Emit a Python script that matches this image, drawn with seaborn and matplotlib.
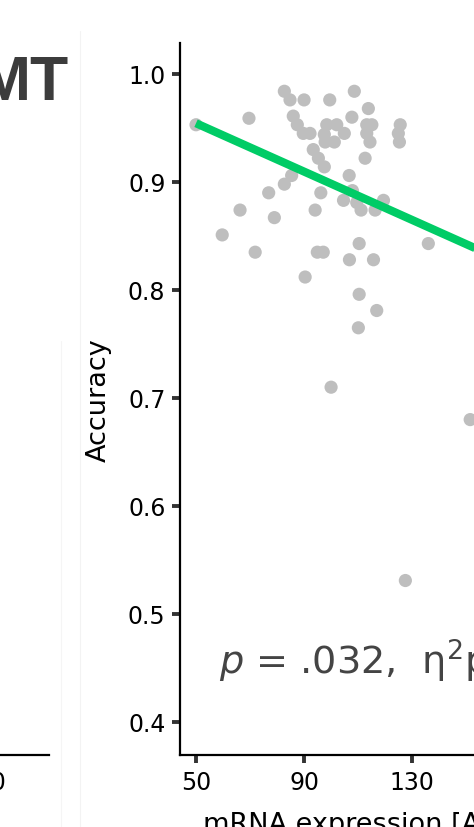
import matplotlib
matplotlib.use("Agg")
import matplotlib.pyplot as plt
from matplotlib.lines import Line2D
import pandas as pd
import seaborn as sns

# mRNA expression and task accuracy per participant
mrna = [50.0, 69.6, 82.7, 84.8, 90.0, 99.5, 108.6, 113.8, 107.7, 86.0,
        87.5, 89.7, 92.2, 98.4, 102.1, 104.9, 97.5, 97.8, 101.2, 113.2,
        115.1, 113.2, 114.4, 125.6, 124.9, 125.3, 112.6, 93.4, 95.3, 97.5,
        85.4, 82.7, 76.9, 96.2, 106.7, 107.9, 104.6, 109.5, 111.1, 116.3,
        119.4, 66.3, 79.0, 94.1, 59.7, 71.9, 94.9, 97.1, 110.4, 136.0,
        106.8, 115.7, 90.4, 110.4, 116.9, 110.1, 100.0, 151.5, 127.5]
accuracy = [0.953, 0.959, 0.984, 0.976, 0.976, 0.976, 0.984, 0.968, 0.960, 0.961,
            0.953, 0.945, 0.945, 0.953, 0.953, 0.945, 0.944, 0.937, 0.937, 0.953,
            0.953, 0.945, 0.937, 0.953, 0.945, 0.937, 0.922, 0.930, 0.922, 0.914,
            0.906, 0.898, 0.890, 0.890, 0.906, 0.892, 0.883, 0.881, 0.874, 0.874,
            0.883, 0.874, 0.867, 0.874, 0.851, 0.835, 0.835, 0.835, 0.843, 0.843,
            0.828, 0.828, 0.812, 0.796, 0.781, 0.765, 0.710, 0.680, 0.531]

# Linear fit endpoints
fit_x = [50, 185]
fit_y = [0.9544, 0.8033]

x_ticks = [50, 90, 130, 170]
y_ticks = [0.4, 0.5, 0.6, 0.7, 0.8, 0.9, 1.0]
y_tick_labels = ["0.4", "0.5", "0.6", "0.7", "0.8", "0.9", "1.0"]
annotation = "$p$ = .032,  η$^{2}$p"

sns.set_style("ticks")
plt.rcParams["font.family"] = ["DejaVu Sans"]

W, H = 474, 828
fig = plt.figure(figsize=(W / 100, H / 100), dpi=100)
fig.patch.set_facecolor("white")


def px_box(left, top, right, bottom):
    return [left / W, 1 - bottom / H, (right - left) / W, (bottom - top) / H]


ax_left = fig.add_axes(px_box(-356, 44, 49, 756))
ax = fig.add_axes(px_box(180, 44, 585, 756))

for a in (ax_left, ax):
    a.set_facecolor("white")
    a.set_xlim(44.07, 194)
    a.set_ylim(0.36944, 1.0287)
    a.set_xticks(x_ticks)
    a.tick_params(axis="both", length=6, width=2.8, color="#333333",
                  labelsize=17, labelcolor="black", pad=4.5)
    for side in ("left", "bottom"):
        a.spines[side].set_linewidth(1.6)
        a.spines[side].set_color("black")
    sns.despine(ax=a)

ax_left.set_yticks([])
ax_left.spines["left"].set_visible(False)
ax_left.set_xlabel("")

df = pd.DataFrame({"mrna": mrna, "accuracy": accuracy})
sns.scatterplot(data=df, x="mrna", y="accuracy", color="#BEBEBE", s=90,
                edgecolor="none", linewidth=0, ax=ax, zorder=2)
sns.lineplot(x=fit_x, y=fit_y, color="#00CC66", linewidth=5.9,
             solid_capstyle="butt", ax=ax, zorder=3)

ax.set_yticks(y_ticks, labels=y_tick_labels)

ax.set_ylabel("Accuracy", fontsize=19.5, color="black")
ax.yaxis.set_label_coords((112 - 180) / 405, 0.5)

ax.set_xlabel("mRNA expression [A.U.]", fontsize=19.5, color="black")
ax.xaxis.label.set_ha("left")
ax.xaxis.label.set_va("baseline")
ax.xaxis.set_label_coords((203 - 180) / 405, (756 - 832) / 712)

ax.text(58.6, 0.4444, annotation, fontsize=27.5, color="#444444",
        ha="left", va="baseline", zorder=4)

fig.text(69 / W, 1 - 100 / H, "MT", fontsize=45, fontweight="bold",
         family=["Liberation Sans", "DejaVu Sans"], color="#3c3c3c",
         ha="right", va="baseline")

# faint panel separators
fig.add_artist(Line2D([80 / W, 80 / W], [0, 1 - 32 / H], color="#f3f3f3",
                      lw=0.8, transform=fig.transFigure))
fig.add_artist(Line2D([61 / W, 61 / W], [0, 1 - 342 / H], color="#f5f5f5",
                      lw=0.8, transform=fig.transFigure))

fig.savefig("out.png", dpi=100, facecolor="white")
